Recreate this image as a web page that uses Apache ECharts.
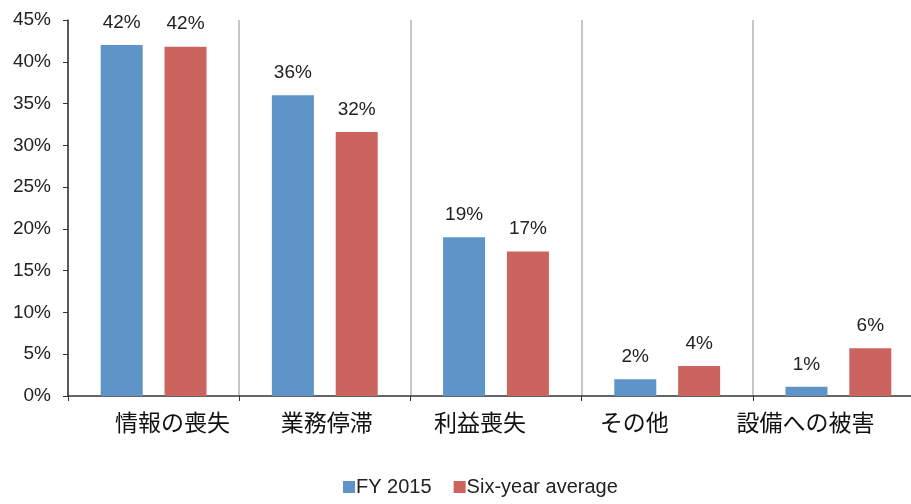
<!DOCTYPE html>
<html>
<head>
<meta charset="utf-8">
<script src="https://cdn.jsdelivr.net/npm/echarts@6/dist/echarts.min.js"></script>
<style>
  html, body { margin: 0; padding: 0; background: #fff; overflow: hidden; }
  #panel { width: 924px; height: 504px; }
</style>
</head>
<body>
<div id="panel"></div>
<script>
  // data
  let categories = ["情報の喪失", "業務停滞", "利益喪失", "その他", "設備への被害"];
  let fy2015 = [42, 36, 19, 2, 1.1];
  let sixYearAvg = [41.8, 31.6, 17.3, 3.6, 5.7];
  let yTicks = [0, 5, 10, 15, 20, 25, 30, 35, 40, 45];

  // label shift per category (px, + = right)
  let labelShift = [19, 2, -16, -33, -33];

  let rich = {};
  categories.forEach((c, i) => {
    let d = labelShift[i];
    rich["c" + i] = {
      fontSize: 23,
      color: "#111",
      fontFamily: "Noto Sans CJK JP",
      padding: d >= 0 ? [0, 0, 0, 2 * d] : [0, -2 * d, 0, 0]
    };
  });

  // the plot runs past the right edge of the 911px window
  let panel = echarts.init(document.getElementById("panel"));
  let option = {
    animation: false,
    textStyle: { fontFamily: "Liberation Sans, Arial, sans-serif" },
    grid: {
      left: 68,
      top: 20,
      right: 0,
      bottom: 108
    },
    legend: {
      bottom: 2,
      left: 338,
      itemWidth: 12,
      itemHeight: 12,
      itemGap: 22,
      icon: "rect",
      textStyle: { fontSize: 20, color: "#222", padding: [0, 0, 0, -4] },
      data: ["FY 2015", "Six-year average"]
    },
    xAxis: {
      type: "category",
      data: categories,
      axisLine: { lineStyle: { color: "#333", width: 1.5 } },
      axisTick: { show: true, length: 5, lineStyle: { color: "#333" } },
      splitLine: { show: true, lineStyle: { color: "#b4b4b4", width: 1.5 } },
      axisLabel: {
        margin: 15,
        formatter: (v) => "{c" + categories.indexOf(v) + "|" + v + "}",
        rich: rich
      }
    },
    yAxis: {
      type: "value",
      min: yTicks[0],
      max: yTicks[yTicks.length - 1],
      interval: 5,
      axisLine: { show: true, lineStyle: { color: "#333", width: 1.5 } },
      axisTick: { show: true, length: 5, lineStyle: { color: "#333" } },
      splitLine: { show: false },
      axisLabel: {
        margin: 17,
        fontSize: 19,
        color: "#222",
        formatter: (v) => v + "%"
      }
    },
    series: [
      {
        name: "FY 2015",
        type: "bar",
        data: fy2015,
        barWidth: 42,
        barGap: "52%",
        itemStyle: { color: "#5e94c8" },
        label: {
          show: true,
          position: "top",
          distance: 13,
          fontSize: 19,
          color: "#222",
          formatter: (p) => Math.round(p.value) + "%"
        }
      },
      {
        name: "Six-year average",
        type: "bar",
        data: sixYearAvg,
        barWidth: 42,
        itemStyle: { color: "#cb645e" },
        label: {
          show: true,
          position: "top",
          distance: 13,
          fontSize: 19,
          color: "#222",
          formatter: (p) => Math.round(p.value) + "%"
        }
      }
    ]
  };
  panel.setOption(option, true);
</script>
</body>
</html>
